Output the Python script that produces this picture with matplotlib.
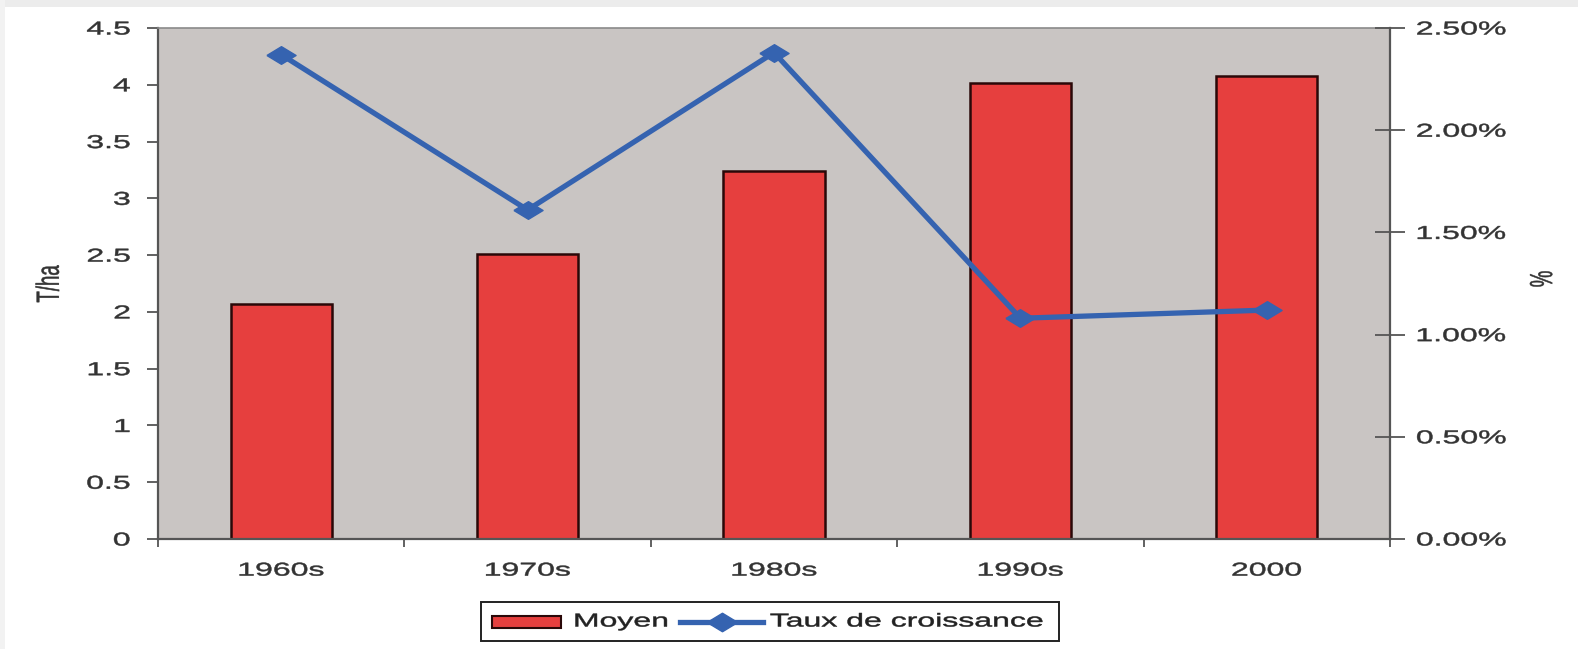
import matplotlib
matplotlib.use("Agg")
import matplotlib.pyplot as plt
from matplotlib.ticker import FuncFormatter
from matplotlib.patches import Rectangle
from matplotlib.lines import Line2D
from matplotlib.patheffects import AbstractPathEffect
from matplotlib.transforms import Affine2D

categories = ["1960s", "1970s", "1980s", "1990s", "2000"]
moyen = [2.07, 2.51, 3.24, 4.02, 4.08]
taux = [2.37, 1.61, 2.38, 1.08, 1.12]  # percent
series_names = ["Moyen", "Taux de croissance"]
left_ticks = [0, 0.5, 1, 1.5, 2, 2.5, 3, 3.5, 4, 4.5]
right_ticks = [0, 0.5, 1.0, 1.5, 2.0, 2.5]

plt.rcParams['font.family'] = ['Liberation Sans', 'DejaVu Sans']

W, H = 1578, 649
SX = 1.72  # the reference image is horizontally stretched


class HStretch(AbstractPathEffect):
    def __init__(self, sx=SX, anchor='center'):
        super().__init__()
        self.sx = sx
        self.anchor = anchor

    def draw_path(self, renderer, gc, tpath, affine, rgbFace=None):
        try:
            ext = tpath.get_extents(affine)
            if self.anchor == 'right':
                cx = ext.x1
            elif self.anchor == 'left':
                cx = ext.x0
            else:
                cx = 0.5 * (ext.x0 + ext.x1)
        except Exception:
            cx = 0
        new = affine + Affine2D().translate(-cx, 0).scale(self.sx, 1).translate(cx, 0)
        gc.set_linewidth(0.35)
        gc.set_foreground(rgbFace)
        renderer.draw_path(gc, tpath, new, rgbFace)


TXT = '#333333'
FS = 13.4
BLUE = '#3563b0'
RED = '#e63f3e'

fig = plt.figure(figsize=(W / 100, H / 100), dpi=100, facecolor='white')
# light scan border
fig.patches.append(Rectangle((0, 1 - 7 / H), 1, 7 / H, transform=fig.transFigure,
                             color='#ececec', lw=0, zorder=-10))
fig.patches.append(Rectangle((0, 0), 5 / W, 1, transform=fig.transFigure,
                             color='#f2f2f2', lw=0, zorder=-10))

ax = fig.add_axes([158 / W, 1 - 539 / H, (1390 - 158) / W, (539 - 28) / H])
ax.set_facecolor('#c9c5c3')
x = list(range(len(categories)))
bars = ax.bar(x, moyen, width=0.41, color=RED, edgecolor='#2a0808',
              linewidth=1.8, zorder=2)
ax.set_xlim(-0.5, 4.5)
ax.set_ylim(0, 4.5)
ax.set_yticks(left_ticks)
ax.yaxis.set_major_formatter(FuncFormatter(lambda v, p: f"{v:g}"))
ax.set_xticks(x)
ax.set_xticklabels(categories)
ax.set_xticks([i + 0.5 for i in range(-1, 5)], minor=True)
ax.tick_params(axis='x', which='major', length=0, pad=17, labelsize=FS, labelcolor=TXT)
ax.tick_params(axis='x', which='minor', length=6, direction='out', color='#555555', width=1.3)
ax.tick_params(axis='y', length=8, direction='out', color='#555555', width=1.3,
               labelsize=FS, labelcolor=TXT, pad=12)
ax.spines['right'].set_visible(False)
ax.spines['top'].set_color('#8a8a8a')
ax.spines['top'].set_linewidth(1.2)
for s in ['left', 'bottom']:
    ax.spines[s].set_color('#555555')
    ax.spines[s].set_linewidth(1.6)

ax2 = ax.twinx()
diamond = [(-1.65, 0), (0, 1), (1.65, 0), (0, -1), (-1.65, 0)]
line, = ax2.plot(x, taux, color=BLUE, lw=3.8, marker=diamond, markersize=21,
                 zorder=3, solid_joinstyle='round')
ax2.set_ylim(0, 2.5)
ax2.set_yticks(right_ticks)
ax2.yaxis.set_major_formatter(FuncFormatter(lambda v, p: f"{v:.2f}%"))
ax2.tick_params(axis='y', length=22, direction='inout', color='#555555', width=1.3,
                labelsize=FS, labelcolor=TXT, pad=8)
for s in ['top', 'left', 'bottom']:
    ax2.spines[s].set_visible(False)
ax2.spines['right'].set_color('#555555')
ax2.spines['right'].set_linewidth(1.6)

# axis titles
fig.text(49.5 / W, 1 - 284 / H, 'T/ha', rotation=90, ha='center', va='center',
         fontsize=FS, color=TXT, path_effects=[HStretch(anchor='center')])
fig.text(1543 / W, 1 - 279 / H, '%', rotation=90, ha='center', va='center',
         fontsize=FS, color=TXT, path_effects=[HStretch(anchor='center')])

# legend box (drawn to match the stretched reference)
fig.patches.append(Rectangle((481 / W, 1 - 641 / H), (1059 - 481) / W, 39 / H,
                             transform=fig.transFigure, fill=False, ec='#222222', lw=1.4))
fig.patches.append(Rectangle((492 / W, 1 - 628 / H), (561 - 492) / W, 12 / H,
                             transform=fig.transFigure, fc=RED, ec='#2a0808', lw=1.5))
fig.lines.append(Line2D([680 / W, 763 / W], [1 - 622 / H, 1 - 622 / H], transform=fig.transFigure,
                        color=BLUE, lw=3.8))
fig.lines.append(Line2D([722 / W], [1 - 622 / H], transform=fig.transFigure,
                        color=BLUE, lw=0, marker=diamond, markersize=22))
fig.text(574 / W, 1 - 622 / H, series_names[0], ha='left', va='center', fontsize=FS,
         color='#222222', path_effects=[HStretch(anchor='left')])
fig.text(770 / W, 1 - 622 / H, series_names[1], ha='left', va='center', fontsize=FS,
         color='#222222', path_effects=[HStretch(anchor='left')])

fig.canvas.draw()
for lbl in ax.get_xticklabels():
    lbl.set_path_effects([HStretch(anchor='center')])
for lbl in ax.get_yticklabels():
    lbl.set_path_effects([HStretch(anchor='right')])
for lbl in ax2.get_yticklabels():
    lbl.set_path_effects([HStretch(anchor='left')])

fig.savefig('out.png', dpi=100, facecolor='white')
